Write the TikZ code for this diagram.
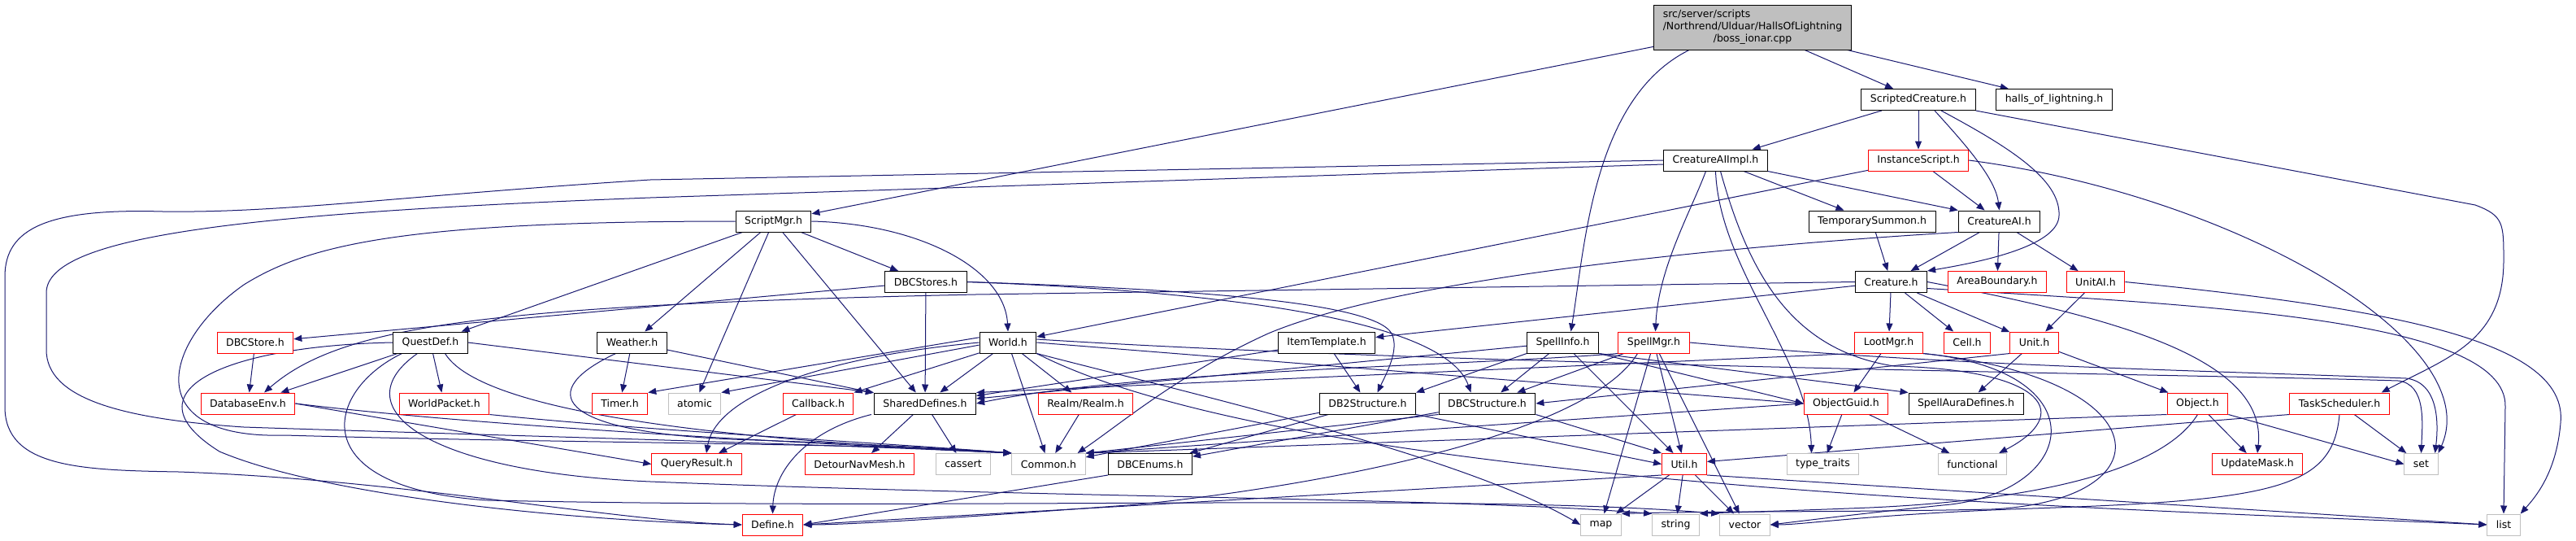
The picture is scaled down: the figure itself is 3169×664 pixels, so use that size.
\documentclass[tikz,border=0pt]{standalone}
\usepackage{fontspec}
\setmainfont{DejaVu Sans}
\usetikzlibrary{arrows.meta}
\definecolor{edgec}{HTML}{191970}
\definecolor{gbord}{HTML}{BFBFBF}
\definecolor{rbord}{HTML}{FF0000}
\pgfdeclarelayer{bg}
\pgfsetlayers{bg,main}
\newcommand{\nfs}{\fontsize{12.5}{15}\selectfont}
\begin{document}
\begin{tikzpicture}[x=1pt,y=-1pt,
 nd/.style={draw, fill=white, font=\nfs, inner xsep=11pt, inner ysep=0pt, minimum height=26pt, line width=1pt},
 nb/.style={nd, draw=black},
 nr/.style={nd, draw=rbord},
 ng/.style={nd, draw=gbord},
 e/.style={draw=edgec, line width=1pt, -{Triangle[length=10pt,width=8pt]}}]
\useasboundingbox (0,0) rectangle (3169,664);
% ---------- nodes ----------
\node[nd, fill=gbord, draw=black, inner ysep=5pt] (boss) at (2156,33.5) {\begin{tabular}{@{}l@{}}src/server/scripts\\/Northrend/Ulduar/HallsOfLightning\\\multicolumn{1}{@{}c@{}}{/boss\_ionar.cpp}\end{tabular}};
\node[nb] (SC) at (2360,122.5) {ScriptedCreature.h};
\node[nb] (HoL) at (2527,122.5) {halls\_of\_lightning.h};
\node[nb] (CAII) at (2110.5,197) {CreatureAIImpl.h};
\node[nr] (IS) at (2360,197) {InstanceScript.h};
\node[nb] (SM) at (951.5,272) {ScriptMgr.h};
\node[nb] (TS) at (2303,272) {TemporarySummon.h};
\node[nb] (CAI) at (2459.5,272) {CreatureAI.h};
\node[nb] (DBCs) at (1139,346.5) {DBCStores.h};
\node[nb] (Cr) at (2326.5,346.5) {Creature.h};
\node[nr] (AB) at (2457,346.5) {AreaBoundary.h};
\node[nr] (UAI) at (2578,346.5) {UnitAI.h};
\node[nr] (DBCst) at (314,421) {DBCStore.h};
\node[nb] (QD) at (529.5,421) {QuestDef.h};
\node[nb] (We) at (777.5,421) {Weather.h};
\node[nb] (Wo) at (1240,421) {World.h};
\node[nb] (IT) at (1632,421) {ItemTemplate.h};
\node[nb] (SI) at (1922.5,421) {SpellInfo.h};
\node[nr] (SpM) at (2034.5,421) {SpellMgr.h};
\node[nr] (LM) at (2323.5,421) {LootMgr.h};
\node[nr] (Cell) at (2420,421) {Cell.h};
\node[nr] (Unit) at (2502.5,421) {Unit.h};
\node[nr] (DE) at (305,496) {DatabaseEnv.h};
\node[nr] (WP) at (546.5,496) {WorldPacket.h};
\node[nr] (Ti) at (762.5,496) {Timer.h};
\node[ng] (atm) at (854.5,496) {atomic};
\node[nr] (Cb) at (1006.5,496) {Callback.h};
\node[nb] (SD) at (1138,496) {SharedDefines.h};
\node[nr] (Re) at (1335.5,496) {Realm/Realm.h};
\node[nb] (D2S) at (1682.5,496) {DB2Structure.h};
\node[nb] (DCS) at (1829.5,496) {DBCStructure.h};
\node[nr] (OG) at (2271,496) {ObjectGuid.h};
\node[nb] (SAD) at (2418.5,496) {SpellAuraDefines.h};
\node[nr] (Ob) at (2703.5,496) {Object.h};
\node[nr] (TSc) at (2878,496) {TaskScheduler.h};
\node[nr] (QR) at (857,570.5) {QueryResult.h};
\node[nr] (DNM) at (1057.5,570.5) {DetourNavMesh.h};
\node[ng] (ca) at (1185,570.5) {cassert};
\node[ng] (Co) at (1290,570.5) {Common.h};
\node[nb] (DE2) at (1415,570.5) {DBCEnums.h};
\node[nr] (Ut) at (2072,570.5) {Util.h};
\node[ng] (tt) at (2242.5,570.5) {type\_traits};
\node[ng] (fu) at (2426.5,570.5) {functional};
\node[nr] (UM) at (2777,570.5) {UpdateMask.h};
\node[ng] (set) at (2978.5,570.5) {set};
\node[nr] (Df) at (950.5,645) {Define.h};
\node[ng] (map) at (1969.5,645) {map};
\node[ng] (str) at (2061.5,645) {string};
\node[ng] (vec) at (2146.5,645) {vector};
\node[ng] (list) at (3080,645) {list};
% ---------- edges ----------
\begin{pgfonlayer}{bg}
\fill[white] (0,0) rectangle (3169,664);
% boss
\draw[e] (boss) -- (SM);
\draw[e] ([xshift=-78pt]boss.south) .. controls (1960,120) and (1950,300) .. ([xshift=10pt]SI.north);
\draw[e] (boss) -- (SC);
\draw[e] (boss) -- (HoL);
% ScriptedCreature
\draw[e] (SC) -- (CAII);
\draw[e] (SC) -- (IS);
\draw[e] ([xshift=20pt]SC.south) .. controls (2420,180) and (2455,220) .. (CAI.north);
\draw[e] ([xshift=28pt]SC.south) .. controls (2470,180) and (2535,220) .. (2533,265) .. controls (2532,300) and (2450,320) .. (Cr.north east);
\draw[e] (SC.south east) -- (3045,252) .. controls (3080,265) and (3080,275) .. (3080,320) .. controls (3080,420) and (3010,440) .. ([xshift=-10pt]TSc.north east);
% CreatureAIImpl
\draw[e] (CAII.west) -- (800,221) .. controls (500,240) and (350,262) .. (200,260) .. controls (60,256) and (6,280) .. (6,340) -- (6,500) .. controls (6,575) and (100,578) .. (220,580) .. controls (500,590) and (750,640) .. (Df.west);
\draw[e] ([yshift=-5pt]CAII.west) -- (800,243) .. controls (300,262) and (57,290) .. (57,360) -- (57,430) .. controls (57,490) and (150,515) .. (300,525) .. controls (600,535) and (1000,545) .. (Co.north west);
\draw[e] ([xshift=-12pt]CAII.south) .. controls (2080,260) and (2040,330) .. ([xshift=2pt]SpM.north);
\draw[e] (CAII.south) .. controls (2115,330) and (2225,440) .. ([xshift=-14pt]tt.north);
\draw[e] ([xshift=6pt]CAII.south) .. controls (2150,330) and (2200,430) .. (2330,450) .. controls (2520,455) and (2550,510) .. ([xshift=-10pt]fu.north east);
\draw[e] (CAII) -- (TS);
\draw[e] (CAII.south east) -- (CAI.north west);
% InstanceScript
\draw[e] (IS) -- (CAI);
\draw[e] (IS) -- (Wo);
\draw[e] (IS.east) .. controls (2750,240) and (3060,420) .. (set.north east);
% ScriptMgr
\draw[e] (SM) -- (QD);
\draw[e] (SM) -- (We);
\draw[e] (SM) -- (atm);
\draw[e] (SM) -- (SD);
\draw[e] (SM) -- (DBCs);
\draw[e] (SM.east) .. controls (1130,275) and (1236,330) .. (Wo.north);
\draw[e] (SM.west) .. controls (500,272) and (380,300) .. (300,350) .. controls (200,420) and (170,540) .. (350,535) .. controls (700,545) and (1100,545) .. (Co.north west);
% TemporarySummon, CreatureAI
\draw[e] (TS) -- (Cr);
\draw[e] (CAI) -- (Cr);
\draw[e] (CAI) -- (AB);
\draw[e] (CAI) -- (UAI);
\draw[e] (CAI.south west) .. controls (2250,295) and (1750,330) .. (1560,410) .. controls (1450,460) and (1380,520) .. ([xshift=-10pt]Co.north east);
% DBCStores
\draw[e] (DBCs) -- (DBCst);
\draw[e] (DBCs) -- (SD);
\draw[e] (DBCs.east) .. controls (1450,355) and (1690,370) .. (1712,410) .. controls (1722,430) and (1705,460) .. ([xshift=12pt]D2S.north);
\draw[e] (DBCs.east) .. controls (1550,360) and (1780,400) .. ([xshift=-20pt]DCS.north);
% Creature
\draw[e] (Cr) -- (LM);
\draw[e] (Cr) -- (Cell);
\draw[e] (Cr) -- (Unit);
\draw[e] (Cr) -- (IT);
\draw[e] (Cr.west) -- (1200,362) .. controls (600,375) and (420,400) .. ([xshift=20pt]DE.north);
\draw[e] (Cr.east) .. controls (2600,390) and (2790,440) .. (UM.north);
\draw[e] ([yshift=-8pt]Cr.east) .. controls (2700,375) and (3085,390) .. (3082,500) -- (list.north);
% UnitAI
\draw[e] (UAI) -- (Unit);
\draw[e] (UAI.east) .. controls (2950,380) and (3160,420) .. (3150,520) .. controls (3145,580) and (3120,610) .. (list.north east);
% DBCStore, QuestDef
\draw[e] (DBCst) -- (DE);
\draw[e] (QD) -- (DE);
\draw[e] (QD) -- (WP);
\draw[e] (QD.east) -- (SD.north west);
\draw[e] (QD.west) .. controls (280,425) and (150,480) .. (270,555) .. controls (400,610) and (700,640) .. (Df.west);
\draw[e] ([xshift=18pt]QD.south) .. controls (600,520) and (1000,545) .. (Co.north west);
\draw[e] ([xshift=-16pt]QD.south) .. controls (420,500) and (520,580) .. (800,592) .. controls (1300,612) and (1800,612) .. (str.north west);
\draw[e] ([xshift=-35pt]QD.south) .. controls (400,480) and (370,600) .. (600,615) .. controls (1200,628) and (1800,605) .. (vec.north west);
% Weather
\draw[e] (We) -- (Ti);
\draw[e] (We) -- (SD);
\draw[e] ([xshift=-20pt]We.south) .. controls (660,480) and (680,530) .. (900,540) .. controls (1050,545) and (1150,550) .. (Co.north west);
% World
\draw[e] (Wo.170) -- (Ti.north east);
\draw[e] (Wo.185) -- (atm.north east);
\draw[e] (Wo.200) -- (Cb.north east);
\draw[e] (Wo) -- (SD);
\draw[e] (Wo) -- (Re);
\draw[e] (Wo) -- (Co);
\draw[e] (Wo.west) .. controls (1000,440) and (880,490) .. ([xshift=12pt]QR.north);
\draw[e] (Wo.east) -- (OG.west);
\draw[e] ([yshift=4pt]Wo.east) .. controls (1800,450) and (2700,460) .. (2950,468) .. controls (2985,472) and (2980,520) .. (set.north);
\draw[e] (Wo.south east) .. controls (1450,480) and (1800,560) .. (map.west);
\draw[e] (Wo.south east) .. controls (1600,600) and (2600,625) .. (list.west);
% ItemTemplate
\draw[e] (IT) -- (SD);
\draw[e] (IT) -- (D2S);
% SpellInfo
\draw[e] (SI) -- (SD);
\draw[e] (SI.south west) -- (D2S.north east);
\draw[e] (SI) -- (DCS);
\draw[e] (SI) -- (Ut);
\draw[e] (SI.south east) -- (SAD.north west);
\draw[e] (SI.south east) -- (OG.west);
% SpellMgr
\draw[e] (SpM.south west) .. controls (1800,450) and (1400,455) .. (SD.east);
\draw[e] (SpM) -- (DCS);
\draw[e] ([xshift=-20pt]SpM.south) .. controls (1950,540) and (1600,600) .. (1400,620) .. controls (1200,635) and (1050,645) .. (Df.east);
\draw[e] (SpM) -- (map);
\draw[e] (SpM) -- (Ut);
\draw[e] (SpM) -- (vec);
\draw[e] (SpM.east) .. controls (2400,450) and (2700,455) .. (2960,465) .. controls (3000,470) and (3000,520) .. ([xshift=-4pt]set.north east);
% LootMgr
\draw[e] (LM) -- (OG);
\draw[e] (LM.south west) -- (SD.north east);
\draw[e] (LM.south east) .. controls (2580,455) and (2560,600) .. (2400,620) .. controls (2300,630) and (2220,640) .. (vec.east);
\draw[e] (LM.south east) .. controls (2660,465) and (2670,615) .. (2450,626) .. controls (2250,630) and (2100,628) .. (map.north east);
% Unit
\draw[e] (Unit) -- (Ob);
\draw[e] (Unit) -- (SAD);
\draw[e] (Unit.south west) -- (DCS.east);
% DatabaseEnv, WorldPacket, Callback, Realm
\draw[e] (DE.east) -- (QR.west);
\draw[e] (DE.east) .. controls (600,525) and (1000,545) .. (Co.north west);
\draw[e] (WP.south east) .. controls (800,530) and (1100,545) .. (Co.north west);
\draw[e] (Cb) -- (QR);
\draw[e] (Re) -- (Co);
% SharedDefines
\draw[e] ([xshift=-3pt]SD.south west) .. controls (990,530) and (952,580) .. (Df.north);
\draw[e] (SD) -- (DNM);
\draw[e] (SD) -- (ca);
% DB2Structure, DBCStructure
\draw[e] (D2S) -- (DE2);
\draw[e] (D2S) -- (Co);
\draw[e] (D2S.south east) -- (Ut.west);
\draw[e] (DCS) -- (DE2);
\draw[e] (DCS.south west) -- (Co.north east);
\draw[e] (DCS.south east) -- (Ut.north west);
% ObjectGuid
\draw[e] (OG) -- (tt);
\draw[e] (OG) -- (fu);
\draw[e] (OG.west) -- (Co.north east);
% Object
\draw[e] (Ob) -- (UM);
\draw[e] (Ob.south east) -- (set.west);
\draw[e] (Ob.south west) -- (Co.north east);
\draw[e] (Ob.south) .. controls (2660,580) and (2500,615) .. (2300,624) .. controls (2200,628) and (2120,630) .. (str.north east);
% TaskScheduler
\draw[e] (TSc) -- (set);
\draw[e] (TSc.south west) -- ([yshift=3pt]Ut.east);
\draw[e] (TSc.south) .. controls (2870,600) and (2800,615) .. (2500,625) .. controls (2300,632) and (2220,645) .. (vec.east);
% Util
\draw[e] (Ut) -- (map);
\draw[e] (Ut) -- (str);
\draw[e] (Ut) -- (vec);
\draw[e] (Ut.south east) -- (list.west);
\draw[e] (Ut.south west) -- (Df.east);
% DBCEnums
\draw[e] (DE2.south west) -- (Df.east);
\end{pgfonlayer}
\end{tikzpicture}
\end{document}
